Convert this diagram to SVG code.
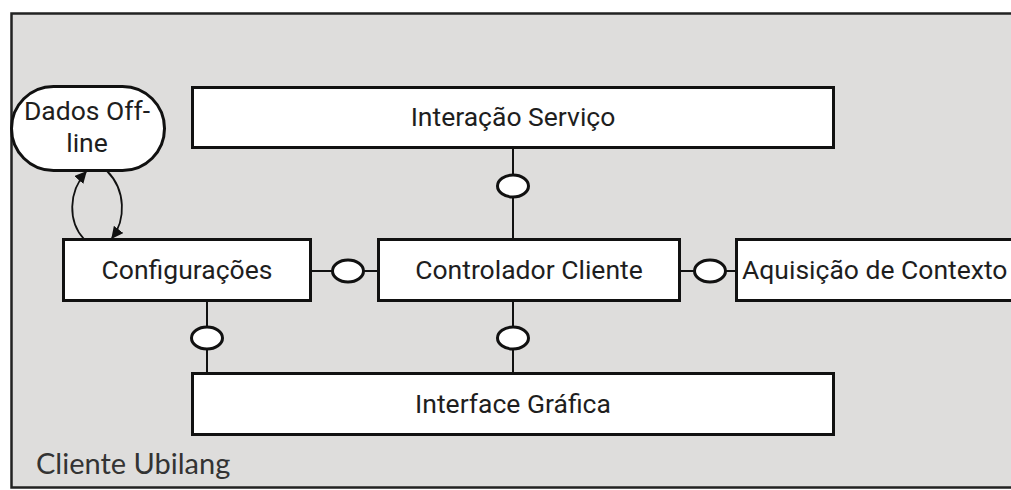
<svg xmlns="http://www.w3.org/2000/svg" width="1011" height="490" viewBox="0 0 1011 490">
  <style>
    .box { fill: #ffffff; stroke: #111111; stroke-width: 3; }
    .lbl { font-family: Roboto, "Liberation Sans", sans-serif; font-size: 26.5px; fill: #1e1e1e; }
    .wire { fill: none; stroke: #111111; stroke-width: 2; }
    .sock { fill: #ffffff; stroke: #111111; stroke-width: 3; }
    .flow { fill: none; stroke: #111111; stroke-width: 1.8; }
  </style>
  <defs>
    <marker id="tip" viewBox="0 0 10 10" refX="9" refY="5" markerWidth="12" markerHeight="12" markerUnits="userSpaceOnUse" orient="auto">
      <path d="M0,0 L10,5 L0,10 z" fill="#111111"/>
    </marker>
  </defs>

  <rect width="1011" height="490" fill="#ffffff"/>

  <!-- package frame, open to the right -->
  <g id="cliente-ubilang">
    <rect x="11.5" y="13.5" width="1040" height="474" fill="#dedddc" stroke="#222222" stroke-width="2.5"/>
    <text x="36" y="474" font-family="Lato, 'Open Sans', sans-serif" font-size="29" fill="#333333">Cliente Ubilang</text>
  </g>

  <!-- connectors and interface sockets -->
  <g id="connectors">
    <line class="wire" x1="513" y1="147" x2="513" y2="239"/>
    <line class="wire" x1="513" y1="300" x2="513" y2="373"/>
    <line class="wire" x1="207" y1="300" x2="207" y2="373"/>
    <line class="wire" x1="311" y1="271" x2="378" y2="271"/>
    <line class="wire" x1="680" y1="271" x2="736" y2="271"/>
    <ellipse class="sock" cx="513" cy="186" rx="15.5" ry="11"/>
    <ellipse class="sock" cx="513" cy="338" rx="15.5" ry="11"/>
    <ellipse class="sock" cx="207" cy="338" rx="15.5" ry="11"/>
    <ellipse class="sock" cx="348" cy="271" rx="15.5" ry="11"/>
    <ellipse class="sock" cx="710" cy="271" rx="15.5" ry="11"/>
    <path class="flow" d="M84,239 C68,222 68,192 86,172" marker-end="url(#tip)"/>
    <path class="flow" d="M107,171 C126,190 126,220 112,238" marker-end="url(#tip)"/>
  </g>

  <g id="dados-offline">
    <rect x="11.5" y="86.5" width="153" height="84" rx="42" ry="42" class="box"/>
    <text class="lbl" x="87" y="120" text-anchor="middle">Dados Off-</text>
    <text class="lbl" x="87" y="152" text-anchor="middle">line</text>
  </g>

  <g id="interacao-servico">
    <rect class="box" x="192.5" y="87.5" width="641" height="60"/>
    <text class="lbl" x="513" y="126" text-anchor="middle">Interação Serviço</text>
  </g>

  <g id="configuracoes">
    <rect class="box" x="63.5" y="239.5" width="247" height="61"/>
    <text class="lbl" x="187" y="279" text-anchor="middle">Configurações</text>
  </g>

  <g id="controlador-cliente">
    <rect class="box" x="378.5" y="239.5" width="301" height="61"/>
    <text class="lbl" x="529" y="279" text-anchor="middle">Controlador Cliente</text>
  </g>

  <g id="aquisicao-contexto">
    <rect class="box" x="736.5" y="239.5" width="290" height="61"/>
    <text class="lbl" x="742" y="279">Aquisição de Contexto</text>
  </g>

  <g id="interface-grafica">
    <rect class="box" x="192.5" y="373.5" width="641" height="61"/>
    <text class="lbl" x="513" y="413" text-anchor="middle">Interface Gráfica</text>
  </g>
</svg>
